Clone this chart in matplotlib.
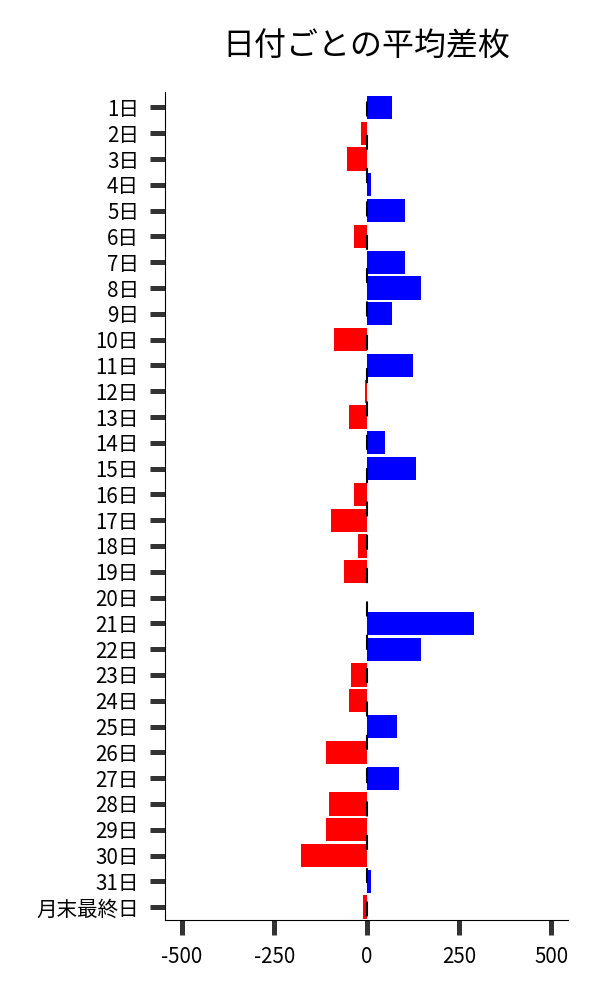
import matplotlib.pyplot as plt

plt.rcParams['font.family'] = ['Noto Sans CJK JP', 'DejaVu Sans']
plt.rcParams['axes.unicode_minus'] = False

days = [f"{d}日" for d in range(1, 32)] + ["月末最終日"]
diff = [68, -16, -54, 13, 103, -33, 103, 148, 70, -89,
        127, -4, -49, 49, 133, -33, -97, -22, -60, 0,
        290, 146, -41, -49, 81, -111, 89, -102, -110, -178,
        11, -10]
colors = ['#0000ff' if v > 0 else '#ff0000' for v in diff]

fig = plt.figure(figsize=(6, 10), dpi=100)
ax = fig.add_axes([0.275, 0.08, 0.672, 0.828])

ax.barh(range(len(days)), diff, height=0.9, color=colors, zorder=2)
ax.axvline(0, color='black', lw=1.5, zorder=3, linestyle=(14.3, (7.2, 8.8)))

ax.set_yticks(range(len(days)))
ax.set_yticklabels(days)
ax.set_ylim(len(days) - 0.5, -0.6)
ax.set_xlim(-546, 546)
ax.set_xticks([-500, -250, 0, 250, 500])

ax.spines['top'].set_visible(False)
ax.spines['right'].set_visible(False)
ax.tick_params(axis='both', length=10.8, width=3.6, color='#333333',
               labelsize=14.8, pad=8)

ax.set_title("日付ごとの平均差枚", fontsize=23, pad=26)

fig.savefig("out.png", dpi=100)
